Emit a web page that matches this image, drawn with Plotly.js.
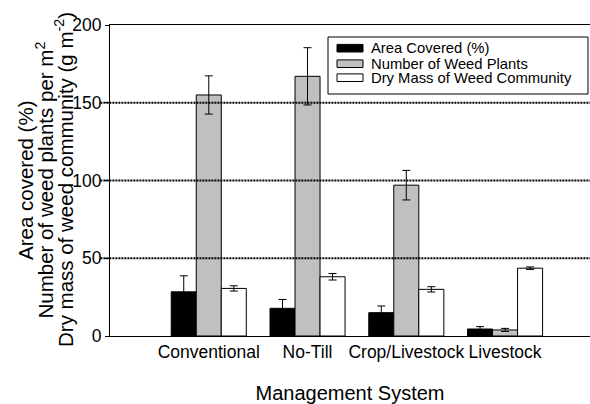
<!DOCTYPE html>
<html>
<head>
<meta charset="utf-8">
<script src="https://cdn.plot.ly/plotly-3.0.1.min.js"></script>
<style>html,body{margin:0;padding:0;background:#fff;}#chart{width:590px;height:404px;}</style>
</head>
<body>
<div id="chart"></div>
<script>
const categories = ["Conventional", "No-Till", "Crop/Livestock", "Livestock"];
const areaCovered = [28.4, 17.8, 15.0, 4.5];
const areaCoveredErr = [10.3, 5.7, 4.3, 1.5];
const weedPlants = [155, 167, 97, 3.9];
const weedPlantsErr = [12.3, 18.4, 9.5, 1.0];
const dryMass = [30.6, 38.1, 30.0, 43.6];
const dryMassErr = [1.7, 2.1, 1.7, 0.8];
const yTicks = [0, 50, 100, 150, 200];
const gridValues = [50, 100, 150];
const seriesNames = ["Area Covered (%)", "Number of Weed Plants", "Dry Mass of Weed Community"];
const seriesColors = ["#000000", "#c0c0c0", "#ffffff"];
const yTitleLines = ["Area covered (%)", "Number of weed plants per m<sup>2</sup>", "Dry mass of weed community (g m<sup>-2</sup>)"];

const FONT = "Liberation Sans, Arial, sans-serif";
// plot area in pixels
const L = 110, R = 590, T = 25, B = 336;
const px = v => (v - L) / (R - L);
const py = v => (B - v) / (B - T);

function err(a){ return {type:"data", array:a, visible:true, color:"#000", thickness:1, width:4}; }
function bar(i, y, e){
  return {type:"bar", name:seriesNames[i], x:categories, y:y, error_y:err(e), showlegend:false,
    marker:{color:seriesColors[i], line:{color:"#000", width:1}}};
}
const data = [
  bar(0, areaCovered, areaCoveredErr),
  bar(1, weedPlants, weedPlantsErr),
  bar(2, dryMass, dryMassErr)
];

const shapes = gridValues.map(v => ({type:"line", xref:"paper", x0:-0.02, x1:1, yref:"y", y0:v, y1:v,
  line:{color:"#000", width:2, dash:"2px,1px"}, layer:"above"}));

// legend box
shapes.push({type:"rect", xref:"paper", yref:"paper", x0:px(328), x1:px(588), y0:py(37), y1:py(94),
  line:{color:"#000", width:1}, fillcolor:"#fff", layer:"above"});
const legendRowY = [48.2, 63.7, 77.7];
const annotations = [];
seriesNames.forEach((n, i) => {
  shapes.push({type:"rect", xref:"paper", yref:"paper", x0:px(337), x1:px(363),
    y0:py(legendRowY[i] - 3.8), y1:py(legendRowY[i] + 3.8),
    line:{color:"#000", width:1}, fillcolor:seriesColors[i], layer:"above"});
  annotations.push({text:n, showarrow:false, xref:"paper", yref:"paper", x:px(369), y:py(legendRowY[i]),
    xanchor:"left", yanchor:"middle", font:{family:FONT, size:14.8, color:"#000"}});
});

const yTitleX = [25, 44.5, 64];
yTitleLines.forEach((t,i) => annotations.push({text:t, textangle:-90, showarrow:false,
  xref:"paper", yref:"paper", x:px(yTitleX[i]), y:py(180),
  xanchor:"center", yanchor:"middle", font:{family:FONT, size:20.5, color:"#000"}}));

const layout = {
  width:590, height:404,
  margin:{l:L, r:590 - R, t:T, b:404 - B},
  paper_bgcolor:"#fff", plot_bgcolor:"#fff",
  font:{family:FONT, color:"#000"},
  barmode:"group", bargap:0.24, bargroupgap:0,
  showlegend:false,
  xaxis:{type:"category", range:[-1.0, 3.86], showline:true, mirror:true, linecolor:"#000", linewidth:1,
    ticks:"", showgrid:false, zeroline:false, tickfont:{family:FONT, size:17.5, color:"#000"},
    title:{text:"Management System", font:{family:FONT, size:20, color:"#000"}, standoff:24}},
  yaxis:{range:[0,200], tickvals:yTicks, ticktext:yTicks.map(String), showline:true, linecolor:"#000", linewidth:1,
    ticks:"outside", ticklen:4, tickwidth:1, tickcolor:"#000", showgrid:false, zeroline:false,
    tickfont:{family:FONT, size:17.5, color:"#000"}},
  shapes:shapes,
  annotations:annotations
};
Plotly.newPlot("chart", data, layout, {displayModeBar:false, staticPlot:true});
</script>
</body>
</html>
